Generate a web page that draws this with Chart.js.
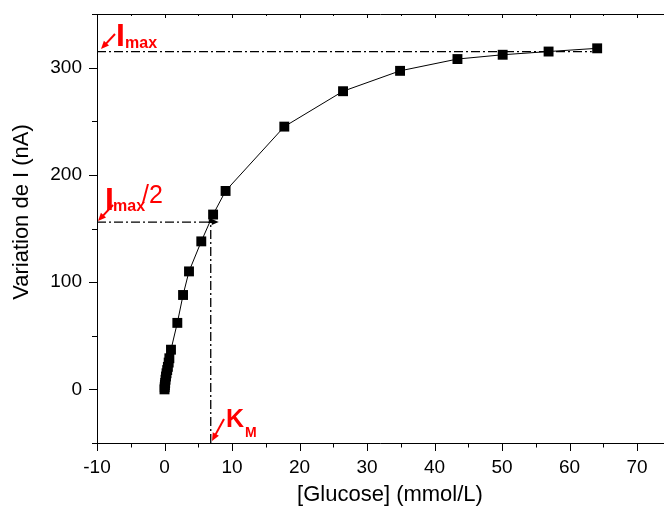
<!DOCTYPE html>
<html>
<head>
<meta charset="utf-8">
<script src="https://cdn.jsdelivr.net/npm/chart.js@4.4.1/dist/chart.umd.min.js"></script>
<style>
  html, body { margin: 0; padding: 0; background: #fff; overflow: hidden; }
</style>
</head>
<body>
<canvas id="kmChart" width="664" height="509"></canvas>
<script>
// glucose concentration (mmol/L) and current variation (nA)
const glucose = [0, 0.03, 0.06, 0.1, 0.15, 0.22, 0.3, 0.4, 0.5, 0.62, 0.72, 0.96, 1.9, 2.75, 3.63, 5.45, 7.2, 9.05, 17.75, 26.45, 34.9, 43.4, 50.1, 56.9, 64.1];
const courant = [0, 2, 4, 6, 9, 12, 15, 18, 21, 25, 29, 37, 62, 88, 110, 138, 163, 185, 245, 278, 297, 308, 312, 315, 318];

const xTicks = [-10, 0, 10, 20, 30, 40, 50, 60, 70];
const yTicks = [0, 100, 200, 300];

const iMax = 315;
const iMaxHalf = 156;
const kM = 6.85;

const FONT = "'Liberation Sans', Arial, sans-serif";
const RED = '#ff0000';

function arrow(ctx, x1, y1, x2, y2, color, len, half, width) {
    const a = Math.atan2(y2 - y1, x2 - x1);
    ctx.save();
    ctx.strokeStyle = color;
    ctx.fillStyle = color;
    ctx.lineWidth = width;
    ctx.setLineDash([]);
    ctx.beginPath();
    ctx.moveTo(x1, y1);
    ctx.lineTo(x2 - Math.cos(a) * len * 0.8, y2 - Math.sin(a) * len * 0.8);
    ctx.stroke();
    ctx.beginPath();
    ctx.moveTo(x2, y2);
    ctx.lineTo(x2 - Math.cos(a) * len - Math.sin(a) * half, y2 - Math.sin(a) * len + Math.cos(a) * half);
    ctx.lineTo(x2 - Math.cos(a) * len + Math.sin(a) * half, y2 - Math.sin(a) * len - Math.cos(a) * half);
    ctx.closePath();
    ctx.fill();
    ctx.restore();
}

function head(ctx, x, y, ang, len, half) {
    ctx.beginPath();
    ctx.moveTo(x, y);
    ctx.lineTo(x - Math.cos(ang) * len - Math.sin(ang) * half, y - Math.sin(ang) * len + Math.cos(ang) * half);
    ctx.lineTo(x - Math.cos(ang) * len + Math.sin(ang) * half, y - Math.sin(ang) * len - Math.cos(ang) * half);
    ctx.closePath();
    ctx.fill();
}

function noPad(s) {
    s.paddingTop = 0;
    s.paddingBottom = 0;
    s.paddingLeft = 0;
    s.paddingRight = 0;
}

const decor = {
    id: 'decor',
    beforeDatasetsDraw(chart) {
        const ctx = chart.ctx;
        const xs = chart.scales.x, ys = chart.scales.y;
        const a = chart.chartArea;
        ctx.save();
        ctx.strokeStyle = '#000';
        ctx.fillStyle = '#000';
        ctx.lineWidth = 1.3;
        ctx.setLineDash([9, 3, 2, 3]);
        // Imax
        const yMax = ys.getPixelForValue(iMax);
        ctx.beginPath();
        ctx.moveTo(a.left, yMax);
        ctx.lineTo(xs.getPixelForValue(63.3), yMax);
        ctx.stroke();
        // Imax/2
        const yHalf = ys.getPixelForValue(iMaxHalf);
        const xKm = xs.getPixelForValue(kM);
        ctx.beginPath();
        ctx.moveTo(a.left, yHalf);
        ctx.lineTo(xKm + 4, yHalf);
        ctx.stroke();
        // KM
        ctx.beginPath();
        ctx.moveTo(xKm, a.bottom);
        ctx.lineTo(xKm, yHalf - 2);
        ctx.stroke();
        ctx.setLineDash([]);
        head(ctx, xKm + 8, yHalf, 0, 7, 3);
        head(ctx, xKm, yHalf - 6, -Math.PI / 2, 7, 3);
        ctx.restore();
    },
    afterDraw(chart) {
        const ctx = chart.ctx;
        const xs = chart.scales.x, ys = chart.scales.y;
        const a = chart.chartArea;
        ctx.save();
        ctx.strokeStyle = '#000';
        ctx.lineWidth = 1;
        ctx.setLineDash([]);
        // frame
        ctx.beginPath();
        ctx.moveTo(a.left + 0.5, a.top);
        ctx.lineTo(a.left + 0.5, a.bottom + 0.5);
        ctx.lineTo(a.right, a.bottom + 0.5);
        ctx.moveTo(a.left, a.top + 0.5);
        ctx.lineTo(a.right, a.top + 0.5);
        ctx.stroke();
        // ticks
        ctx.beginPath();
        for (let v = -10; v <= 74; v += 5) {
            const px = Math.round(xs.getPixelForValue(v)) + 0.5;
            const major = v % 10 === 0;
            ctx.moveTo(px, a.bottom);
            ctx.lineTo(px, a.bottom + (major ? 8 : 4.5));
            ctx.moveTo(px, a.top);
            ctx.lineTo(px, a.top + (major ? 4 : 2));
        }
        for (let v = -50; v <= 350; v += 50) {
            const py = Math.round(ys.getPixelForValue(v)) + 0.5;
            const major = v % 100 === 0;
            ctx.moveTo(a.left, py);
            ctx.lineTo(a.left - (major ? 8 : 5), py);
        }
        ctx.stroke();

        // axis titles
        ctx.fillStyle = '#000';
        ctx.font = '22px ' + FONT;
        ctx.textAlign = 'center';
        ctx.textBaseline = 'middle';
        ctx.fillText('[Glucose] (mmol/L)', 390, 495);
        ctx.save();
        ctx.translate(22, 212);
        ctx.rotate(-Math.PI / 2);
        ctx.fillText('Variation de I (nA)', 0, 0);
        ctx.restore();

        // red labels
        ctx.fillStyle = RED;
        ctx.textAlign = 'left';
        ctx.textBaseline = 'alphabetic';
        ctx.font = 'bold 32px ' + FONT;
        ctx.fillText('I', 116, 46);
        ctx.font = 'bold 16px ' + FONT;
        ctx.fillText('max', 125, 48);

        ctx.font = 'bold 32px ' + FONT;
        ctx.fillText('I', 105, 210);
        ctx.font = 'bold 16px ' + FONT;
        ctx.fillText('max', 113, 211);
        ctx.font = '25px ' + FONT;
        ctx.fillText('/2', 142, 203);

        ctx.font = 'bold 25px ' + FONT;
        ctx.fillText('K', 226, 427);
        ctx.font = 'bold 14px ' + FONT;
        ctx.fillText('M', 245, 437);

        arrow(ctx, 115, 34, 101, 49, RED, 8, 3.5, 2);
        arrow(ctx, 113, 205, 98, 221, RED, 8, 3.5, 2);
        arrow(ctx, 224, 419, 212, 441, RED, 8, 3.5, 2);
        ctx.restore();
    }
};

const points = glucose.map((g, i) => ({ x: g, y: courant[i] }));

new Chart(document.getElementById('kmChart'), {
    type: 'scatter',
    data: {
        datasets: [{
            data: points,
            showLine: true,
            borderColor: '#000',
            borderWidth: 1,
            pointStyle: 'rect',
            pointRadius: 7,
            pointBackgroundColor: '#000',
            pointBorderColor: '#000',
            pointBorderWidth: 0
        }]
    },
    options: {
        responsive: false,
        animation: false,
        layout: { autoPadding: false, padding: { top: 14, right: 0, left: 0, bottom: 0 } },
        plugins: {
            legend: { display: false },
            tooltip: { enabled: false }
        },
        scales: {
            x: {
                type: 'linear',
                min: -10,
                max: 74,
                border: { display: false },
                grid: { display: false },
                afterFit(s) { s.height = 66; noPad(s); },
                afterBuildTicks(s) { s.ticks = xTicks.map(v => ({ value: v })); },
                ticks: {
                    padding: 5,
                    color: '#000',
                    maxRotation: 0,
                    font: { family: FONT, size: 19 }
                }
            },
            y: {
                type: 'linear',
                min: -50,
                max: 350,
                border: { display: false },
                grid: { display: false },
                afterFit(s) { s.width = 97; noPad(s); },
                afterBuildTicks(s) { s.ticks = yTicks.map(v => ({ value: v })); },
                ticks: {
                    padding: 7,
                    color: '#000',
                    font: { family: FONT, size: 19 }
                }
            }
        }
    },
    plugins: [decor]
});
</script>
</body>
</html>
